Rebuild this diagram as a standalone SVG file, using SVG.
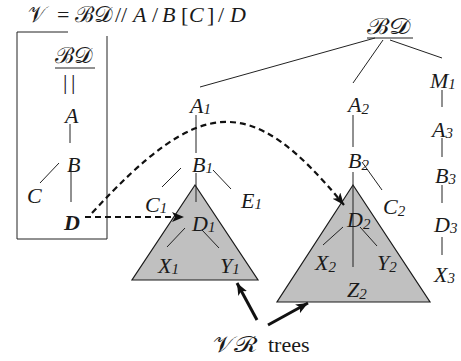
<svg xmlns="http://www.w3.org/2000/svg" width="461" height="361" viewBox="0 0 461 361">
<style>
text{font-family:'Liberation Serif','Times New Roman','DejaVu Serif',serif;font-size:22px;fill:#1a1a1a}
.i{font-style:italic}
.s{font-size:15px;font-style:italic}
.r{font-style:normal}
.b{font-weight:bold;font-style:italic}
.ln{stroke:#222;stroke-width:1;fill:none}
.tri{fill:#c0c0c0;stroke:#1a1a1a;stroke-width:1.2}
.dash{stroke:#111;stroke-width:2.2;fill:none;stroke-dasharray:6,4}
.bold{stroke:#111;stroke-width:3;fill:none}
</style>
<defs>
<marker id="ah" markerUnits="userSpaceOnUse" markerWidth="14" markerHeight="12" refX="12" refY="5" orient="auto">
<path d="M0,0 L12,5 L0,10 L3,5 z" fill="#111"/>
</marker>
</defs>

<g id="title">
<text y="22" font-size="25"><tspan x="28" class="r">𝒱</tspan><tspan x="57" class="r">=</tspan><tspan x="75" class="r" textLength="38" lengthAdjust="spacingAndGlyphs">ℬ𝒟</tspan><tspan x="115" class="r">//</tspan><tspan x="133" class="i">A</tspan><tspan x="152" class="r">/</tspan><tspan x="162" class="i">B</tspan><tspan x="181" class="r">[</tspan><tspan x="189" class="i">C</tspan><tspan x="207" class="r">]</tspan><tspan x="218" class="r">/</tspan><tspan x="230" class="i">D</tspan></text>
</g>

<g id="query-box">
<path class="ln" d="M68,32 H17 V239 H107 V36"/>
</g>

<g id="triangles">
<polygon id="vr1" class="tri" points="195,185 132,280 258,280"/>
<polygon id="vr2" class="tri" points="353,185 277,302 430,302"/>
</g>

<g id="edges">
<line class="ln" x1="70" y1="124" x2="70" y2="143"/>
<line class="ln" x1="71" y1="160" x2="71" y2="202"/>
<line class="ln" x1="59" y1="163" x2="40" y2="183"/>
<line class="ln" x1="375" y1="38" x2="200" y2="87"/>
<line class="ln" x1="383" y1="40" x2="353" y2="83"/>
<line class="ln" x1="390" y1="40" x2="442" y2="58"/>
<line class="ln" x1="196" y1="115" x2="196" y2="153"/>
<line class="ln" x1="196" y1="173" x2="196" y2="202"/>
<line class="ln" x1="181" y1="168" x2="162" y2="187"/>
<line class="ln" x1="213" y1="170" x2="231" y2="189"/>
<line class="ln" x1="185" y1="228" x2="167" y2="247"/>
<line class="ln" x1="202" y1="230" x2="219" y2="248"/>
<line class="ln" x1="353" y1="115" x2="353" y2="147"/>
<line class="ln" x1="353" y1="172" x2="353" y2="267"/>
<line class="ln" x1="362" y1="162" x2="382" y2="190"/>
<line class="ln" x1="343" y1="227" x2="323" y2="245"/>
<line class="ln" x1="360" y1="227" x2="377" y2="246"/>
<line class="ln" x1="442" y1="90" x2="442" y2="107"/>
<line class="ln" x1="442" y1="138" x2="442" y2="157"/>
<line class="ln" x1="442" y1="185" x2="442" y2="203"/>
<line class="ln" x1="442" y1="237" x2="442" y2="255"/>
<path class="dash" d="M85,217 H184" marker-end="url(#ah)"/>
<path class="dash" d="M92,213 C200,96 250,90 344,205" marker-end="url(#ah)"/>
<line class="bold" x1="257" y1="320" x2="237" y2="283" marker-end="url(#ah)"/>
<line class="bold" x1="268" y1="325" x2="308" y2="303" marker-end="url(#ah)"/>
</g>

<g id="q-BD"><text x="55" y="63" class="r" textLength="38" lengthAdjust="spacingAndGlyphs">ℬ𝒟</text><line class="ln" x1="55" y1="68" x2="95" y2="68" stroke-width="1.5"/></g>
<g id="q-desc"><text y="89" class="r" font-size="16"><tspan x="63">|</tspan><tspan x="71">|</tspan></text></g>
<g id="q-A"><text x="65" y="123" class="i">A</text></g>
<g id="q-B"><text x="67" y="172" class="i">B</text></g>
<g id="q-C"><text x="27" y="203" class="i">C</text></g>
<g id="q-D"><text x="64" y="230" class="b">D</text></g>

<g id="root"><text x="367" y="34" class="r" textLength="44" lengthAdjust="spacingAndGlyphs">ℬ𝒟</text><line class="ln" x1="367" y1="38" x2="413" y2="38" stroke-width="1.5"/></g>
<g id="A1"><text x="190" y="113" class="i">A<tspan class="s" dy="1">1</tspan></text></g>
<g id="A2"><text x="348" y="112" class="i">A<tspan class="s" dy="2">2</tspan></text></g>
<g id="M1"><text x="430" y="88" class="i">M<tspan class="s" dy="1">1</tspan></text></g>
<g id="A3"><text x="432" y="137" class="i">A<tspan class="s" dy="1">3</tspan></text></g>
<g id="B1"><text x="192" y="172" class="i">B<tspan class="s" dy="1">1</tspan></text></g>
<g id="B2"><text x="348" y="168" class="i">B<tspan class="s" dy="2">2</tspan></text></g>
<g id="B3"><text x="435" y="183" class="i">B<tspan class="s" dy="1">3</tspan></text></g>
<g id="C1"><text x="145" y="212" class="i">C<tspan class="s" dy="1">1</tspan></text></g>
<g id="E1"><text x="241" y="208" class="i">E<tspan class="s" dy="1">1</tspan></text></g>
<g id="C2"><text x="383" y="214" class="i">C<tspan class="s" dy="2">2</tspan></text></g>
<g id="D1"><text x="192" y="231" class="i">D<tspan class="s" dy="1">1</tspan></text></g>
<g id="D2"><text x="347" y="227" class="i">D<tspan class="s" dy="2">2</tspan></text></g>
<g id="D3"><text x="434" y="232" class="i">D<tspan class="s" dy="1">3</tspan></text></g>
<g id="X1"><text x="158" y="273" class="i">X<tspan class="s" dy="1">1</tspan></text></g>
<g id="Y1"><text x="220" y="273" class="i">Y<tspan class="s" dy="1">1</tspan></text></g>
<g id="X2"><text x="315" y="270" class="i">X<tspan class="s" dy="2">2</tspan></text></g>
<g id="Y2"><text x="377" y="270" class="i">Y<tspan class="s" dy="2">2</tspan></text></g>
<g id="Z2"><text x="347" y="297" class="i">Z<tspan class="s" dy="2">2</tspan></text></g>
<g id="X3"><text x="434" y="282" class="i">X<tspan class="s" dy="1">3</tspan></text></g>
<g id="label"><text y="352" class="r" font-size="25"><tspan x="213" textLength="45" lengthAdjust="spacingAndGlyphs">𝒱ℛ</tspan><tspan x="268">trees</tspan></text></g>
</svg>
